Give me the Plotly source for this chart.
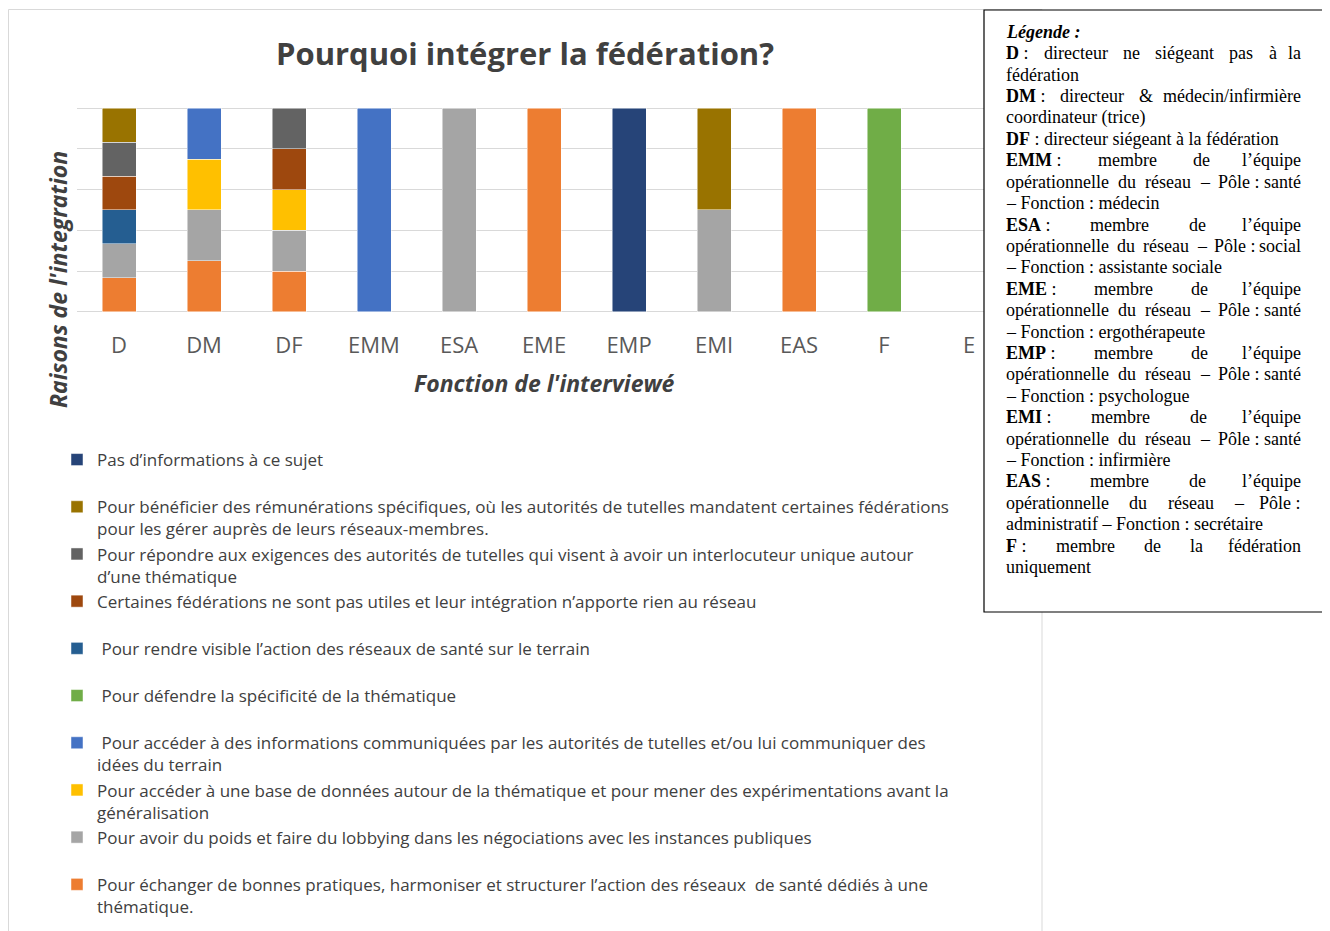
import re
import plotly.graph_objects as go

# page body has an 8px margin: figure is sized to fit the 1330x931 window
OFF = 8
W, H = 1330 - OFF, 931 - OFF

# ---------------- data ----------------
categories = ["D", "DM", "DF", "EMM", "ESA", "EME", "EMP", "EMI", "EAS", "F", "E"]

# series in stacking order (bottom -> top)
series_names = [
    "Pour échanger de bonnes pratiques, harmoniser et structurer l’action des réseaux  de santé dédiés à une<br>thématique.",
    "Pour avoir du poids et faire du lobbying dans les négociations avec les instances publiques",
    "Pour accéder à une base de données autour de la thématique et pour mener des expérimentations avant la<br>généralisation",
    "\u00a0Pour accéder à des informations communiquées par les autorités de tutelles et/ou lui communiquer des<br>idées du terrain",
    "\u00a0Pour défendre la spécificité de la thématique",
    "\u00a0Pour rendre visible l’action des réseaux de santé sur le terrain",
    "Certaines fédérations ne sont pas utiles et leur intégration n’apporte rien au réseau",
    "Pour répondre aux exigences des autorités de tutelles qui visent à avoir un interlocuteur unique autour<br>d’une thématique",
    "Pour bénéficier des rémunérations spécifiques, où les autorités de tutelles mandatent certaines fédérations<br>pour les gérer auprès de leurs réseaux-membres.",
    "Pas d’informations à ce sujet",
]
series_colors = ["#ED7D31", "#A5A5A5", "#FFC000", "#4472C4", "#70AD47",
                 "#255E91", "#9E480E", "#636363", "#997300", "#264478"]

#                 D     DM    DF    EMM   ESA   EME   EMP   EMI   EAS   F     E
echanger     = [1,    1,    1,    None, None, 1,    None, None, 1,    None, None]
poids        = [1,    1,    1,    None, 1,    None, None, 1,    None, None, None]
base_donnees = [None, 1,    1,    None, None, None, None, None, None, None, None]
informations = [None, 1,    None, 1,    None, None, None, None, None, None, None]
defendre     = [None, None, None, None, None, None, None, None, None, 1,    None]
visible      = [1,    None, None, None, None, None, None, None, None, None, None]
certaines    = [1,    None, 1,    None, None, None, None, None, None, None, None]
exigences    = [1,    None, 1,    None, None, None, None, None, None, None, None]
remunerations= [1,    None, None, None, None, None, None, 1,    None, None, None]
pas_infos    = [None, None, None, None, None, None, 1,    None, None, None, None]

series_values = [echanger, poids, base_donnees, informations, defendre,
                 visible, certaines, exigences, remunerations, pas_infos]

title_text = "Pourquoi intégrer la fédération?"
x_title = "Fonction de l'interviewé"
y_title = "Raisons de l'integration"

NB = "\u00a0"
# right-hand text box: ("J" = justified line, "L" = left aligned line)
box_lines = [
    ("L", ["<b><i>Légende :</i></b>"]),
    ("J", ["<b>D</b>" + NB + ":", "directeur", "ne", "siégeant", "pas", "à", "la"]),
    ("L", ["fédération"]),
    ("J", ["<b>DM</b>" + NB + ":", "directeur", "&", "médecin/infirmière"]),
    ("L", ["coordinateur (trice)"]),
    ("L", ["<b>DF</b> : directeur siégeant à la fédération"]),
    ("J", ["<b>EMM</b>" + NB + ":", "membre", "de", "l’équipe"]),
    ("J", ["opérationnelle", "du", "réseau", "–", "Pôle" + NB + ":", "santé"]),
    ("L", ["– Fonction : médecin"]),
    ("J", ["<b>ESA</b>" + NB + ":", "membre", "de", "l’équipe"]),
    ("J", ["opérationnelle", "du", "réseau", "–", "Pôle" + NB + ":", "social"]),
    ("L", ["– Fonction : assistante sociale"]),
    ("J", ["<b>EME</b>" + NB + ":", "membre", "de", "l’équipe"]),
    ("J", ["opérationnelle", "du", "réseau", "–", "Pôle" + NB + ":", "santé"]),
    ("L", ["– Fonction : ergothérapeute"]),
    ("J", ["<b>EMP</b>" + NB + ":", "membre", "de", "l’équipe"]),
    ("J", ["opérationnelle", "du", "réseau", "–", "Pôle" + NB + ":", "santé"]),
    ("L", ["– Fonction : psychologue"]),
    ("J", ["<b>EMI</b>" + NB + ":", "membre", "de", "l’équipe"]),
    ("J", ["opérationnelle", "du", "réseau", "–", "Pôle" + NB + ":", "santé"]),
    ("L", ["– Fonction : infirmière"]),
    ("J", ["<b>EAS</b>" + NB + ":", "membre", "de", "l’équipe"]),
    ("J", ["opérationnelle", "du", "réseau", "–", "Pôle" + NB + ":"]),
    ("L", ["administratif – Fonction : secrétaire"]),
    ("J", ["<b>F</b>" + NB + ":", "membre", "de", "la", "fédération"]),
    ("L", ["uniquement"]),
]

# ---------------- helpers ----------------
def px(x):
    return (x - OFF) / W

def py(y):
    return 1 - (y - OFF) / H

FONT = "Open Sans"
SERIF = "Liberation Serif"
SERIF_SIZE = 18

# Times-compatible advance widths (em) for justification of the text box
REG = {" ": .25, NB: .25, "a": .444, "b": .5, "c": .444, "d": .5, "e": .444, "f": .333,
       "g": .5, "h": .5, "i": .278, "j": .278, "l": .278, "m": .778, "n": .5, "o": .5,
       "p": .5, "q": .5, "r": .333, "s": .389, "t": .278, "u": .5, "v": .5, "é": .444,
       "è": .444, "à": .444, "ô": .5, ":": .278, "&": .778, "/": .278, "–": .5, "’": .333,
       "P": .556, "(": .333, ")": .333}
BOLD = {"D": .722, "M": .944, "E": .667, "S": .556, "A": .722, "P": .611, "I": .389, "F": .611}

def token_width(tok):
    w = 0.0
    for m in re.finditer(r"<b>(.*?)</b>|([^<]+)", tok):
        bold = m.group(1) is not None
        part = m.group(1) if bold else m.group(2)
        for ch in part:
            w += (BOLD.get(ch, .7) if bold else REG.get(ch, .5))
    return w * SERIF_SIZE

BOX_L, BOX_R = 1004, 1303

fig = go.Figure()
for name, color, vals in zip(series_names, series_colors, series_values):
    label = name if "<br>" in name else name + "<br>" + NB
    fig.add_trace(go.Bar(
        x=categories, y=vals, name=label,
        marker=dict(color=color, line=dict(color="rgba(255,255,255,0.8)", width=0.6)),
        hovertemplate="%{x}<extra></extra>",
    ))

annotations = []
# axis titles
annotations.append(dict(text=f"<b><i>{x_title}</i></b>", x=px(544), y=py(383), xref="paper", yref="paper",
                        showarrow=False, xanchor="center", yanchor="middle",
                        font=dict(family=FONT, size=23, color="#404040")))
annotations.append(dict(text=f"<b><i>{y_title}</i></b>", x=px(58), y=py(280), xref="paper", yref="paper",
                        showarrow=False, xanchor="center", yanchor="middle", textangle=-90,
                        font=dict(family=FONT, size=23, color="#404040")))

# text box
def box_ann(tok, x, y, anchor):
    return dict(text=tok, x=px(x), y=py(y), xref="paper", yref="paper", showarrow=False,
                xanchor=anchor, yanchor="middle",
                font=dict(family=SERIF, size=SERIF_SIZE, color="#000000"))

for i, (kind, toks) in enumerate(box_lines):
    yy = 32 + 21.4 * i
    if kind == "L" or len(toks) == 1:
        annotations.append(box_ann(toks[0], BOX_L, yy, "left"))
        continue
    widths = [token_width(t) for t in toks]
    gap = (BOX_R - BOX_L - sum(widths)) / (len(toks) - 1)
    xcur = BOX_L
    for j, (t, w) in enumerate(zip(toks, widths)):
        if j == len(toks) - 1:
            annotations.append(box_ann(t, BOX_R, yy, "right"))
        else:
            annotations.append(box_ann(t, xcur, yy, "left"))
        xcur += w + gap

shapes = [
    # chart area border
    dict(type="rect", xref="paper", yref="paper", x0=px(8.5), x1=px(1042), y0=py(945), y1=py(9.5),
         line=dict(color="#d9d9d9", width=1), fillcolor="rgba(0,0,0,0)", layer="below"),
    # legend text box
    dict(type="rect", xref="paper", yref="paper", x0=px(984), x1=px(1324), y0=py(612), y1=py(10),
         line=dict(color="#000000", width=1.2), fillcolor="#ffffff", layer="above"),
]

# value axis: 0..1 spans pixel 311.7 -> 108.3; pad the range so the end gridlines are kept
Y0_PX, Y1_PX = 311.7, 108.3
PAD = 0.03
unit = Y0_PX - Y1_PX
ydom = [py(Y0_PX + PAD * unit), py(Y1_PX - PAD * unit)]

fig.update_layout(
    width=W, height=H, autosize=False,
    margin=dict(l=0, r=0, t=0, b=0),
    paper_bgcolor="#ffffff", plot_bgcolor="#ffffff",
    barmode="stack", barnorm="fraction", bargap=0.6,
    title=dict(text=f"<b>{title_text}</b>", x=px(525), xref="paper", xanchor="center",
               y=py(54), yref="paper", yanchor="middle",
               font=dict(family=FONT, size=31, color="#404040")),
    xaxis=dict(domain=[px(76.5), px(1011.5)], type="category", categoryorder="array",
               categoryarray=categories, range=[-0.5, 10.5], showgrid=False, zeroline=False,
               showline=False, ticks="", ticklabelstandoff=int(round(18 - PAD * unit)),
               tickfont=dict(family=FONT, size=22, color="#595959")),
    yaxis=dict(domain=ydom, range=[-PAD, 1 + PAD], dtick=0.2, tick0=0,
               showticklabels=False, showgrid=True, gridcolor="#d9d9d9", gridwidth=1.3,
               zeroline=False, showline=False, ticks=""),
    showlegend=True,
    legend=dict(x=px(57), xanchor="left", y=py(442), yanchor="top", orientation="v",
                traceorder="reversed", valign="top", bgcolor="rgba(0,0,0,0)",
                font=dict(family=FONT, size=17, color="#404040"), itemwidth=30),
    annotations=annotations,
    shapes=shapes,
)

fig.write_html("out.html")
